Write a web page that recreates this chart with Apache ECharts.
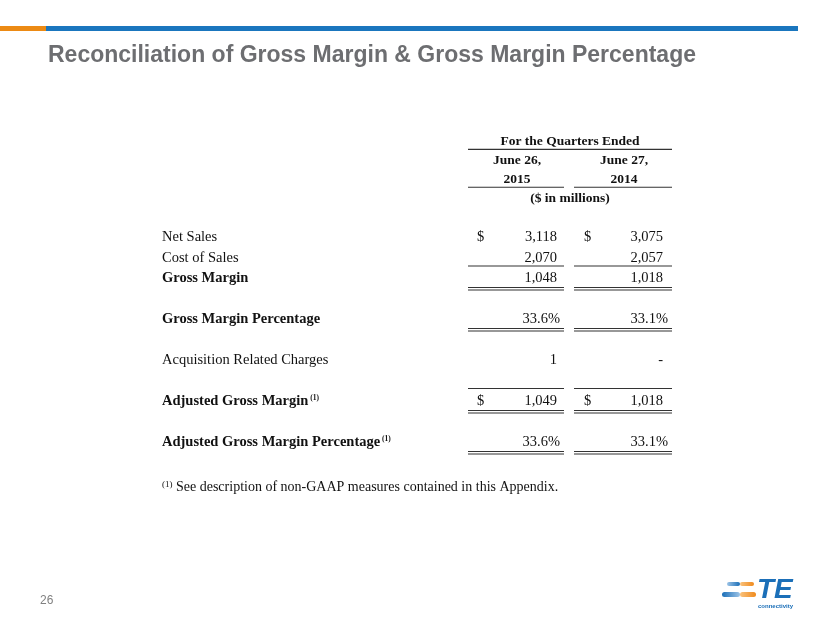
<!DOCTYPE html>
<html>
<head>
<meta charset="utf-8">
<script src="https://cdn.jsdelivr.net/npm/echarts@6/dist/echarts.min.js"></script>
<style>
  html, body { margin: 0; padding: 0; background: #fff; }
  #chart { width: 830px; height: 623px; }
</style>
</head>
<body>
<div id="chart"></div>
<script>
// table rows ('' = spacer row)
const rowLabels = ['Net Sales', 'Cost of Sales', 'Gross Margin', '', 'Gross Margin Percentage', '',
  'Acquisition Related Charges', '', 'Adjusted Gross Margin', '', 'Adjusted Gross Margin Percentage'];
const q2015 = [3118, 2070, 1048, null, 33.6, null, 1, null, 1049, null, 33.6];
const q2014 = [3075, 2057, 1018, null, 33.1, null, 0, null, 1018, null, 33.1];
const rowKind = ['money', 'money', 'money', '', 'pct', '', 'money', '', 'money', '', 'pct'];
const boldRows = [0, 0, 1, 0, 1, 0, 0, 0, 1, 0, 1];
const noteRows = [0, 0, 0, 0, 0, 0, 0, 0, 1, 0, 1];
const dollarRows = [1, 0, 0, 0, 0, 0, 0, 0, 1, 0, 0];
const ruleRows = ['', 'under', 'double', '', 'double', '', '', '', 'over+double', '', 'double'];

// header
const headerTitle = 'For the Quarters Ended';
const periodDays = ['June 26,', 'June 27,'];
const periodYears = ['2015', '2014'];
const unitsNote = '($ in millions)';

const footnote = 'See description of non-GAAP measures contained in this Appendix.';
const pageNumber = '26';

const SERIF = '"Liberation Serif", "Times New Roman", serif';
const SANS = '"Liberation Sans", Arial, sans-serif';
const INK = '#111';

// column layout, in table units (table starts at the label column)
const COL = {
  label: 0,
  dollar: [315, 422],
  value: [395, 501],
  pct: [398, 506],
  rule: [[306, 402], [412, 510]],
  head: [355, 462],
  headMid: 408
};

function fmt(v, kind) {
  if (v == null) return '';
  if (kind === 'pct') return v.toFixed(1) + '%';
  if (v === 0) return '-';
  return v.toLocaleString('en-US');
}

function text(t, x, y, align, bold, size) {
  return {
    type: 'text',
    style: {
      text: t, x: x, y: y, align: align, verticalAlign: 'middle',
      font: (bold ? 'bold ' : '') + size + 'px ' + SERIF, fill: INK
    }
  };
}

function rule(x1, x2, y) {
  return {
    type: 'line',
    shape: { x1: x1, y1: y, x2: x2, y2: y },
    style: { stroke: '#333', lineWidth: 1.1 }
  };
}

function renderBody(params, api) {
  const i = api.value(1);
  const y = api.coord([0, i])[1];
  const px = v => api.coord([v, i])[0];
  const kids = [];
  const label = rowLabels[i];
  if (!label) return { type: 'group', children: kids };
  const bold = !!boldRows[i];

  if (noteRows[i]) {
    kids.push({
      type: 'text',
      style: {
        text: '{a|' + label + '}{s| (1)}',
        x: px(COL.label), y: y, verticalAlign: 'middle',
        rich: {
          a: { font: 'bold 14.5px ' + SERIF, fill: INK },
          s: { font: 'bold 7.5px ' + SERIF, fill: INK, verticalAlign: 'top' }
        }
      }
    });
  } else {
    kids.push(text(label, px(COL.label), y, 'left', bold, 14.5));
  }

  [q2015[i], q2014[i]].forEach((v, c) => {
    const kind = rowKind[i];
    const right = kind === 'pct' ? COL.pct[c] : COL.value[c];
    kids.push(text(fmt(v, kind), px(right), y, 'right', false, 14.5));
    if (dollarRows[i]) kids.push(text('$', px(COL.dollar[c]), y, 'left', false, 14.5));
    const r = ruleRows[i];
    const x1 = px(COL.rule[c][0]), x2 = px(COL.rule[c][1]);
    if (r === 'under') kids.push(rule(x1, x2, y + 8));
    if (r.indexOf('over') >= 0) kids.push(rule(x1, x2, y - 13));
    if (r.indexOf('double') >= 0) {
      kids.push(rule(x1, x2, y + 9));
      kids.push(rule(x1, x2, y + 11.5));
    }
  });
  return { type: 'group', children: kids };
}

function renderHeader(params, api) {
  const i = api.value(1);
  const y = api.coord([0, i])[1];
  const px = v => api.coord([v, i])[0];
  const kids = [];
  if (i === 0) {
    kids.push(text(headerTitle, px(COL.headMid), y - 1, 'center', true, 13.5));
    kids.push(rule(px(COL.rule[0][0]), px(COL.rule[1][1]), y + 7));
  } else if (i === 1 || i === 2) {
    const arr = i === 1 ? periodDays : periodYears;
    arr.forEach((t, c) => {
      kids.push(text(t, px(COL.head[c]), y, 'center', true, 13.5));
      if (i === 2) kids.push(rule(px(COL.rule[c][0]), px(COL.rule[c][1]), y + 7.5));
    });
  } else {
    kids.push(text(unitsNote, px(COL.headMid), y, 'center', true, 13.5));
  }
  return { type: 'group', children: kids };
}

const chart = echarts.init(document.getElementById('chart'));

const option = {
  animation: false,
  backgroundColor: '#fff',
  title: {
    text: 'Reconciliation of Gross Margin & Gross Margin Percentage',
    left: 48, top: 44, padding: 0,
    textStyle: { fontFamily: SANS, fontWeight: 'bold', fontSize: 23, color: '#6d6e71' }
  },
  grid: [
    { left: 162, right: 158, top: 133, height: 74.7 },
    { left: 162, right: 158, top: 227.25, height: 225.5 }
  ],
  xAxis: [
    { gridIndex: 0, type: 'value', min: 0, max: 510, show: false },
    { gridIndex: 1, type: 'value', min: 0, max: 510, show: false }
  ],
  yAxis: [
    { gridIndex: 0, type: 'category', inverse: true, show: false, data: ['0', '1', '2', '3'] },
    { gridIndex: 1, type: 'category', inverse: true, show: false, data: rowLabels.map((_, i) => String(i)) }
  ],
  series: [
    {
      type: 'custom', xAxisIndex: 0, yAxisIndex: 0, clip: false, silent: true,
      renderItem: renderHeader,
      encode: { x: 0, y: 1 },
      data: [[0, 0], [0, 1], [0, 2], [0, 3]]
    },
    {
      type: 'custom', xAxisIndex: 1, yAxisIndex: 1, clip: false, silent: true,
      renderItem: renderBody,
      encode: { x: 0, y: 1 },
      data: rowLabels.map((_, i) => [0, i])
    }
  ],
  graphic: [
    // top bars
    { type: 'rect', left: 0, top: 26, shape: { width: 46, height: 5 }, style: { fill: '#ec8a14' }, silent: true },
    { type: 'rect', left: 46, top: 26, shape: { width: 752, height: 5 }, style: { fill: '#1a76be' }, silent: true },
    // footnote
    {
      type: 'text', left: 162, top: 480, silent: true,
      style: {
        text: '{s|(1)}{t| ' + footnote + '}',
        rich: {
          s: { font: '9px ' + SERIF, fill: INK, verticalAlign: 'top' },
          t: { font: '14px ' + SERIF, fill: INK }
        }
      }
    },
    // page number
    {
      type: 'text', left: 40, top: 595, silent: true,
      style: { text: pageNumber, font: '12px ' + SANS, fill: '#808080' }
    },
    // TE logo
    {
      type: 'group', left: 722, top: 576, silent: true,
      children: [
        { type: 'rect', shape: { x: 5, y: 4, width: 13, height: 4, r: 2 },
          style: { fill: new echarts.graphic.LinearGradient(0, 0, 1, 0, [{ offset: 0, color: '#9cc3e6' }, { offset: 1, color: '#1b6fb8' }]) } },
        { type: 'rect', shape: { x: 18, y: 4, width: 14, height: 4, r: 2 },
          style: { fill: new echarts.graphic.LinearGradient(0, 0, 1, 0, [{ offset: 0, color: '#f9c27d' }, { offset: 1, color: '#f08a1c' }]) } },
        { type: 'rect', shape: { x: 0, y: 14, width: 18, height: 5, r: 2.5 },
          style: { fill: new echarts.graphic.LinearGradient(0, 0, 1, 0, [{ offset: 0, color: '#1b6fb8' }, { offset: 1, color: '#9cc3e6' }]) } },
        { type: 'rect', shape: { x: 18, y: 14, width: 16, height: 5, r: 2.5 },
          style: { fill: new echarts.graphic.LinearGradient(0, 0, 1, 0, [{ offset: 0, color: '#f9c27d' }, { offset: 1, color: '#f08a1c' }]) } },
        { type: 'text', style: { text: 'TE', x: 35, y: -2, font: 'italic bold 28px ' + SANS, fill: '#1b6fb8' } },
        { type: 'text', style: { text: 'connectivity', x: 36, y: 25, font: 'bold 6px ' + SANS, fill: '#1b6fb8' } }
      ]
    }
  ]
};

chart.setOption(option);
window.addEventListener('resize', () => chart.resize());
</script>
</body>
</html>
